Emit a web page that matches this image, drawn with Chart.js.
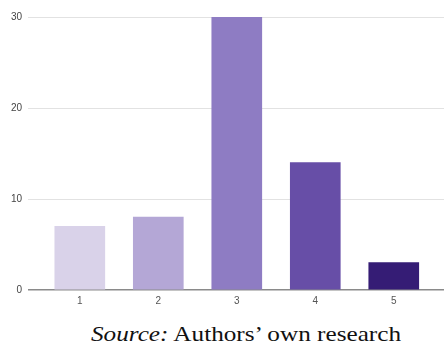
<!DOCTYPE html>
<html>
<head>
<meta charset="utf-8">
<script src="https://cdn.jsdelivr.net/npm/chart.js@4/dist/chart.umd.min.js"></script>
<style>
  html, body { margin: 0; padding: 0; background: #fff; }
  #wrap { position: relative; width: 444px; height: 312px; }
  #src {
    position: absolute; left: 24px; top: 322px; width: 444px; text-align: center;
    font-family: "Liberation Serif", "Times New Roman", serif; font-size: 21px; line-height: 24px; color: #111;
    white-space: nowrap; transform: scaleX(1.2); transform-origin: 50% 50%;
  }
</style>
</head>
<body>
<div id="wrap"><canvas id="c" width="444" height="312"></canvas></div>
<div id="src"><i>Source:</i> Authors’ own research</div>
<script>
// Responses per rating (1 = lowest, 5 = highest)
const ratings = [1, 2, 3, 4, 5];
const counts = [7, 8, 30, 14, 3];
const barColors = ['#d9d2e9', '#b4a7d6', '#8e7cc3', '#674ea7', '#351c75'];
const yTicks = [0, 10, 20, 30];

new Chart(document.getElementById('c'), {
  type: 'bar',
  data: {
    datasets: [{
      data: ratings.map((r, i) => ({ x: r, y: counts[i] })),
      backgroundColor: barColors,
      borderWidth: 0,
      barThickness: 50
    }]
  },
  options: {
    responsive: false,
    animation: false,
    layout: { padding: { top: 17, right: 0, left: 0, bottom: 0 } },
    plugins: { legend: { display: false }, tooltip: { enabled: false } },
    scales: {
      x: {
        type: 'linear',
        offset: false,
        min: 0.34,
        max: 5.64,
        afterBuildTicks: (axis) => { axis.ticks = ratings.map(v => ({ value: v })); },
        afterFit: (axis) => { axis.height = 22; },
        grid: { display: false, drawTicks: false, offset: false },
        border: { display: false },
        ticks: {
          padding: 5,
          color: '#555',
          font: { family: 'Arial, "Liberation Sans", sans-serif', size: 10 },
          callback: (v) => String(v)
        }
      },
      y: {
        min: 0,
        max: 30,
        afterBuildTicks: (axis) => { axis.ticks = yTicks.map(v => ({ value: v })); },
        afterFit: (axis) => { axis.width = 28; },
        grid: {
          drawTicks: false,
          color: (ctx) => ctx.tick && ctx.tick.value === 0 ? '#8a8a8a' : '#e2e2e2',
          lineWidth: (ctx) => ctx.tick && ctx.tick.value === 0 ? 1.5 : 1
        },
        border: { display: false },
        ticks: {
          padding: 6,
          color: '#444',
          font: { family: 'Arial, "Liberation Sans", sans-serif', size: 10 }
        }
      }
    }
  }
});
</script>
</body>
</html>
